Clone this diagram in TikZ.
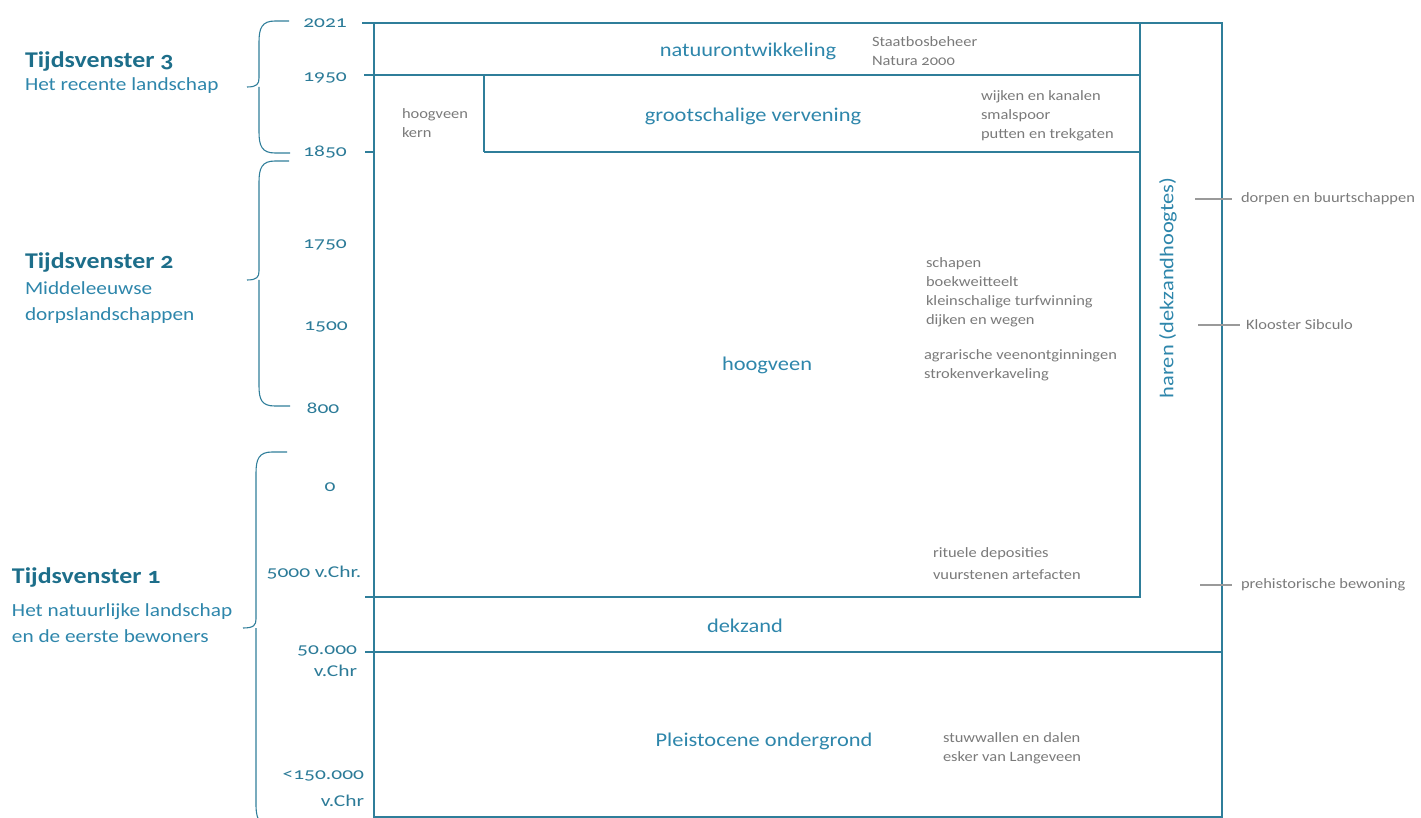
\documentclass[tikz,border=0pt]{standalone}
\usepackage{fontspec}
\setmainfont{Carlito}[Numbers=OldStyle,FakeStretch=1.15]
\newfontfamily\yrfont{Carlito}[Numbers=OldStyle,FakeStretch=1.3]
\begin{document}
\begin{tikzpicture}[x=1pt,y=-1pt,
  every node/.style={inner sep=0pt,outer sep=0pt},
  ln/.style={draw=lineblue,line width=1.3pt},
  br/.style={draw=lineblue,line width=1.1pt},
  lead/.style={draw=leadgray,line width=1.3pt},
  yr/.style={text=yearblue,font=\yrfont\fontsize{16.5}{16}\selectfont},
  main/.style={text=mainblue,font=\fontsize{19.5}{19}\selectfont},
  small/.style={text=smallgray,font=\fontsize{14.3}{19}\selectfont,anchor=west,align=left},
  tv/.style={text=tvblue,font=\bfseries\fontsize{22.5}{20}\selectfont,anchor=west},
  tvs/.style={text=mainblue,font=\fontsize{18.5}{26}\selectfont,anchor=west,align=left}]
\definecolor{lineblue}{HTML}{2F7E9A}
\definecolor{yearblue}{HTML}{2C7B98}
\definecolor{mainblue}{HTML}{2E86AB}
\definecolor{tvblue}{HTML}{1D6E8A}
\definecolor{smallgray}{HTML}{7A7A7A}
\definecolor{leadgray}{HTML}{9A9A9A}
\useasboundingbox (0,0) rectangle (1421,818);
\begin{scope}
\clip (0,0) rectangle (1421,818);
% coordinates
\coordinate (oTL) at (374,23);
\coordinate (oTR) at (1222,23);
\coordinate (oBR) at (1222,817);
\coordinate (oBL) at (374,817);
\coordinate (iTR) at (1140,23);
\coordinate (iBR) at (1140,597);
\coordinate (t2021) at (362,23);
\coordinate (t1950) at (364,75);
\coordinate (r1950) at (1140,75);
\coordinate (t1850) at (365,152);
\coordinate (k1950) at (484,75);
\coordinate (k1850) at (484,152);
\coordinate (r1850) at (1140,152);
\coordinate (t5000) at (365,597);
\coordinate (t50k) at (365,652);
\coordinate (r50k) at (1222,652);
% frame
\draw[ln] (t2021) -- (oTR) -- (oBR) -- (oBL) -- (oTL);
\draw[ln] (iTR) -- (iBR) -- (t5000);
\draw[ln] (t1950) -- (r1950);
\draw[ln] (k1950) -- (k1850);
\draw[ln] (t1850) -- (oTL |- t1850);
\draw[ln] (k1850) -- (r1850);
\draw[ln] (t50k) -- (r50k);
% braces
\draw[br] (289,21) -- (275,21) .. controls (262,21) and (259,28) .. (259,42) -- (259,78)
  .. controls (259,84) and (257,87) .. (247,87);
\draw[br] (259,87) -- (259,132) .. controls (259,146) and (262,153) .. (275,153) -- (290,153);
\draw[br] (289,161) -- (275,161) .. controls (262,161) and (259,168) .. (259,182) -- (259,271)
  .. controls (259,277) and (257,280) .. (247,280);
\draw[br] (259,280) -- (259,386) .. controls (259,400) and (262,406) .. (275,406) -- (290,406);
\draw[br] (287,452) -- (272,452) .. controls (259,452) and (256,459) .. (256,473) -- (256,619)
  .. controls (256,625) and (254,628) .. (243,628);
\draw[br] (256,628) -- (256,805) .. controls (256,815) and (258,820) .. (262,826);
% leaders
\coordinate (l1a) at (1195,199); \coordinate (l1b) at (1232,199);
\coordinate (l2a) at (1198,325); \coordinate (l2b) at (1240,325);
\coordinate (l3a) at (1200,585); \coordinate (l3b) at (1232,585);
\draw[lead] (l1a) -- (l1b);
\draw[lead] (l2a) -- (l2b);
\draw[lead] (l3a) -- (l3b);
\end{scope}
% left titles
\node[tv] (tv3) at (25,62) {Tijdsvenster 3};
\node[tvs] (tv3s) at (25,86) {Het recente landschap};
\node[tv] (tv2) at (25,263) {Tijdsvenster 2};
\node[tvs] (tv2s) at (25,303) {Middeleeuwse\\dorpslandschappen};
\node[tv] (tv1) at (12,578) {Tijdsvenster 1};
\node[tvs] (tv1s) at (12,623) {Het natuurlijke landschap\\en de eerste bewoners};
% years
\node[yr] (y2021) at (325,23) {2021};
\node[yr] (y1950) at (325,78) {1950};
\node[yr] (y1850) at (325,152) {1850};
\node[yr] (y1750) at (325,245) {1750};
\node[yr] (y1500) at (326,327) {1500};
\node[yr] (y800) at (323,408) {800};
\node[yr] (y0) at (330,487) {0};
\node[yr] (y5000) at (314,573) {5000 v.Chr.};
\node[yr,align=right,anchor=east,font=\yrfont\fontsize{16.5}{22}\selectfont] (y50k) at (357,661) {50.000\\v.Chr};
\node[yr,align=right,anchor=east,font=\yrfont\fontsize{16.5}{27}\selectfont] (y150k) at (364,789) {<150.000\\v.Chr};
% main labels
\node[main] (nat) at (748,51) {natuurontwikkeling};
\node[main] (groot) at (753,116) {grootschalige vervening};
\node[main] (hoog) at (767,365) {hoogveen};
\node[main] (dek) at (745,626) {dekzand};
\node[main] (pleis) at (764,741) {Pleistocene ondergrond};
\node[main,rotate=90] (haren) at (1168,288) {haren (dekzandhoogtes)};
% small labels
\node[small] (sb) at (872,51) {Staatbosbeheer\\Natura 2000};
\node[small] (hk) at (402,123) {hoogveen\\kern};
\node[small] (wk) at (981,116) {wijken en kanalen\\smalspoor\\putten en trekgaten};
\node[small] (sch) at (926,292) {schapen\\boekweitteelt\\kleinschalige turfwinning\\dijken en wegen};
\node[small] (agr) at (924,365) {agrarische veenontginningen\\strokenverkaveling};
\node[small,font=\fontsize{14.3}{22}\selectfont] (rit) at (933,564) {rituele deposities\\vuurstenen artefacten};
\node[small] (stu) at (943,748) {stuwwallen en dalen\\esker van Langeveen};
\node[small] (dorp) at (1241,199) {dorpen en buurtschappen};
\node[small] (kloo) at (1246,325) {Klooster Sibculo};
\node[small] (preh) at (1241,585) {prehistorische bewoning};
\end{tikzpicture}
\end{document}
